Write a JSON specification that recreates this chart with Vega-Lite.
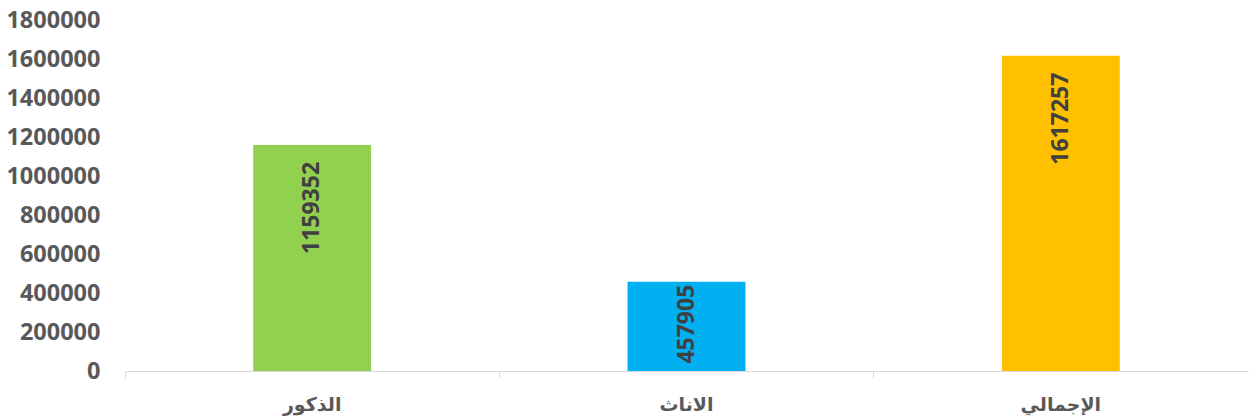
{
  "$schema": "https://vega.github.io/schema/vega-lite/v6.json",
  "width": 1123,
  "height": 351,
  "autosize": {"type": "none"},
  "padding": {"left": 125, "top": 20, "right": 4, "bottom": 47},
  "background": "white",
  "config": {"view": {"stroke": null}},
  "data": {
    "values": [
      {"category": "الذكور", "value": 1159352},
      {"category": "الاناث", "value": 457905},
      {"category": "الإجمالي", "value": 1617257}
    ]
  },
  "encoding": {
    "x": {
      "field": "category",
      "type": "nominal",
      "sort": null,
      "scale": {"paddingInner": 0, "paddingOuter": 0},
      "axis": {
        "title": null,
        "labelAngle": 0,
        "domainColor": "#d9d9d9",
        "domainWidth": 1,
        "tickColor": "#d9d9d9",
        "tickSize": 7,
        "bandPosition": 0,
        "tickExtra": true,
        "labelPadding": 17,
        "labelFont": "DejaVu Sans",
        "labelFontSize": 19,
        "labelFontWeight": "bold",
        "labelColor": "#595959",
        "labelBaseline": "top"
      }
    },
    "y": {
      "field": "value",
      "type": "quantitative",
      "scale": {"domain": [0, 1800000], "nice": false},
      "axis": {
        "title": null,
        "values": [0, 200000, 400000, 600000, 800000, 1000000, 1200000, 1400000, 1600000, 1800000],
        "format": "d",
        "grid": false,
        "domain": false,
        "ticks": false,
        "labelPadding": 25,
        "labelFont": "Open Sans",
        "labelFontSize": 23.5,
        "labelFontWeight": "bold",
        "labelColor": "#595959"
      }
    }
  },
  "layer": [
    {
      "mark": {"type": "bar", "width": {"band": 0.315}},
      "encoding": {
        "color": {
          "field": "category",
          "type": "nominal",
          "sort": null,
          "scale": {"range": ["#92D050", "#00B0F0", "#FFC000"]},
          "legend": null
        }
      }
    },
    {
      "mark": {
        "type": "text",
        "angle": -90,
        "align": "right",
        "baseline": "middle",
        "dx": {"expr": "datum.value < 600000 ? -3 : -17"},
        "font": "Open Sans",
        "fontSize": 23,
        "fontWeight": "bold",
        "color": "#404040"
      },
      "encoding": {
        "text": {"field": "value", "type": "quantitative", "format": "d"}
      }
    }
  ]
}
